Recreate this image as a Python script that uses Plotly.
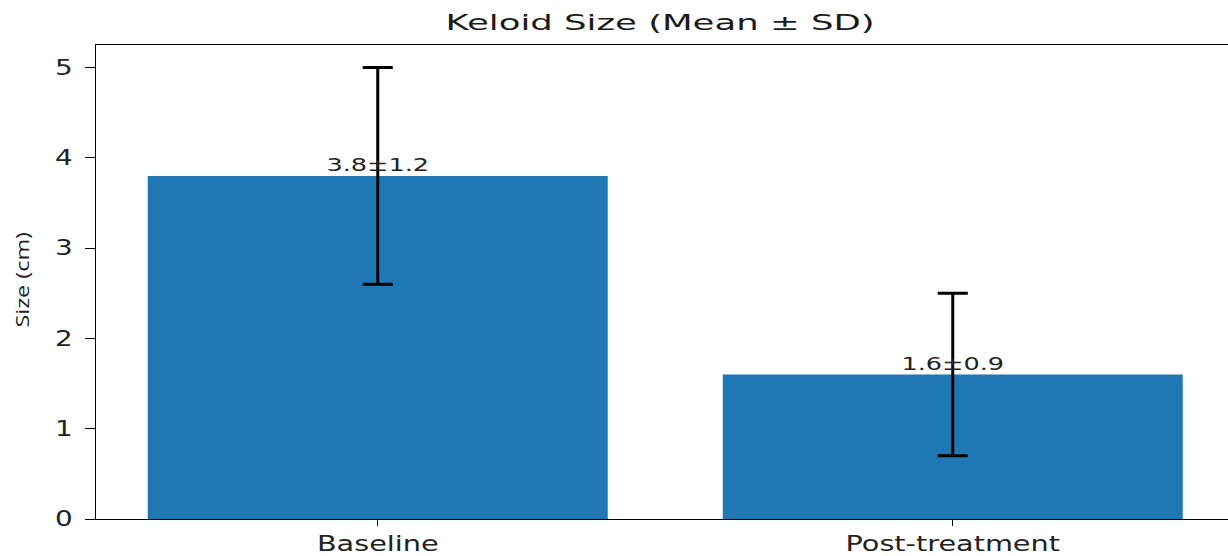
import plotly.graph_objects as go

categories = ["Baseline", "Post-treatment"]
means = [3.8, 1.6]
sds = [1.2, 0.9]
y_ticks = [0, 1, 2, 3, 4, 5]

labels = [f"{m}±{s}" for m, s in zip(means, sds)]

fig = go.Figure()
fig.add_trace(go.Bar(
    x=list(range(len(categories))),
    y=means,
    width=0.8,
    marker=dict(color="#1f77b4", line=dict(width=0)),
    error_y=dict(type="data", array=sds, visible=True,
                 color="black", thickness=3, width=15),
    hoverinfo="skip",
))
fig.add_trace(go.Scatter(
    x=list(range(len(categories))),
    y=means,
    mode="text",
    text=labels,
    textposition="top center",
    textfont=dict(family="DejaVu Sans", size=18, color="#222"),
    hoverinfo="skip",
))

fig.update_layout(
    width=1228, height=556,
    margin=dict(l=96, r=0, t=45, b=35),
    paper_bgcolor="white", plot_bgcolor="white",
    showlegend=False,
    title=dict(text="Keloid Size (Mean ± SD)", x=0.5375, xanchor="center",
               y=0.96, yanchor="middle",
               font=dict(family="DejaVu Sans", size=21.5, color="#1a1a1a")),
    font=dict(family="DejaVu Sans", color="#222"),
    annotations=[dict(
        text="Size (cm)", textangle=-90,
        xref="paper", yref="paper", x=-0.0654, y=0.505,
        xanchor="center", yanchor="middle", showarrow=False,
        font=dict(family="Open Sans", size=18, color="#222"),
    )],
)
fig.update_xaxes(
    range=[-0.49, -0.49 + 1132 / 575],
    tickvals=list(range(len(categories))), ticktext=categories,
    tickfont=dict(size=20.5),
    showline=True, mirror=True, linecolor="black", linewidth=1.2,
    ticks="outside", ticklen=6, tickcolor="black",
    showgrid=False, zeroline=False,
)
fig.update_yaxes(
    range=[0, 5.25],
    tickvals=y_ticks,
    tickfont=dict(size=20.5),
    ticklabelstandoff=8,
    showline=True, linecolor="black", linewidth=1.2,
    ticks="outside", ticklen=10, tickcolor="black",
    showgrid=False, zeroline=False,
)

# Widen the glyphs horizontally (wide-aspect text rendering).
stretch_js = """
var gd = document.getElementById('{plot_id}');
function widen(sel, k) {
  gd.querySelectorAll(sel).forEach(function (t) {
    var w = t.getComputedTextLength();
    if (w > 0) {
      t.setAttribute('textLength', (w * k).toFixed(1));
      t.setAttribute('lengthAdjust', 'spacingAndGlyphs');
    }
  });
}
widen('.gtitle', 1.65);
widen('.xtick text', 1.4);
widen('.ytick text', 1.36);
widen('.textpoint text', 1.42);
widen('.annotation-text', 1.3);
"""

fig.write_html("out.html", post_script=stretch_js)
